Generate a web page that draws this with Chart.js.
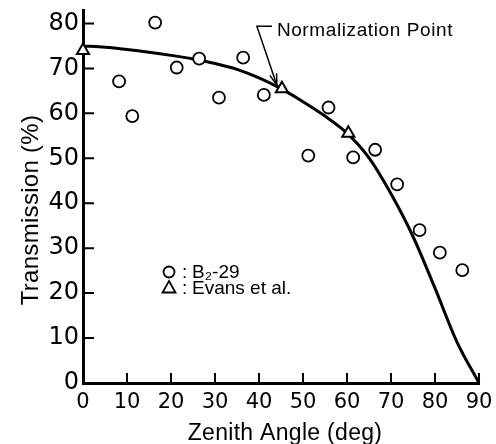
<!DOCTYPE html>
<html>
<head>
<meta charset="utf-8">
<script src="https://cdn.jsdelivr.net/npm/chart.js@4.4.1/dist/chart.umd.min.js"></script>
<style>
  html, body { margin: 0; padding: 0; background: #fff; }
</style>
</head>
<body>
<canvas id="myChart" width="496" height="444"></canvas>
<script>
// B2-29 measurements
var b2Angle = [8.2, 11.2, 16.4, 21.3, 26.4, 30.9, 36.4, 41.1, 51.2, 55.8, 61.4, 66.4, 71.4, 76.5, 81.1, 86.2];
var b2Trans = [67.1, 59.4, 80.2, 70.2, 72.2, 63.5, 72.4, 64.1, 50.6, 61.3, 50.2, 51.9, 44.2, 34.0, 29.0, 25.1];
// Evans et al.
var evansAngle = [0, 45.2, 60.3];
var evansTrans = [74.0, 65.5, 55.6];
// solid curve, read every 5 deg
var curveAngle = [0, 5, 10, 15, 20, 25, 30, 35, 40, 45, 50, 55, 60, 65, 70, 75, 80, 85, 90];
var curveTrans = [75, 74.7, 74.2, 73.6, 72.9, 72.1, 71.1, 69.8, 67.9, 65.5, 62.6, 59.4, 55.6, 50.1, 42.1, 32.6, 21.1, 9.1, 0];
// ticks
var xTicks = [0, 10, 20, 30, 40, 50, 60, 70, 80, 90];
var yTicks = [0, 10, 20, 30, 40, 50, 60, 70, 80];
var labels = ['B\u2082-29', 'Evans et al.'];
var normIndex = 1; // normalization point = Evans point at 45 deg

function pts(xs, ys) {
  return xs.map(function (x, i) { return { x: x, y: ys[i] }; });
}

var titleFont = '"Liberation Sans", Arial, sans-serif';

// draws inward ticks, axis titles, legend and the arrow note
var decorations = {
  id: 'decorations',
  afterDraw: function (chart) {
    var ctx = chart.ctx;
    var xs = chart.scales.x, ys = chart.scales.y;
    ctx.save();
    ctx.strokeStyle = '#000';
    ctx.fillStyle = '#000';

    // inward ticks
    ctx.lineWidth = 2;
    ctx.beginPath();
    xs.ticks.forEach(function (t) {
      var px = xs.getPixelForValue(t.value);
      ctx.moveTo(px, ys.bottom);
      ctx.lineTo(px, ys.bottom - 10);
    });
    ys.ticks.forEach(function (t) {
      var py = ys.getPixelForValue(t.value);
      ctx.moveTo(xs.left, py);
      ctx.lineTo(xs.left + 11, py);
    });
    ctx.stroke();

    // axis titles
    ctx.font = '23px ' + titleFont;
    ctx.textAlign = 'center';
    ctx.textBaseline = 'alphabetic';
    ctx.letterSpacing = '0.3px';
    ctx.fillText('Zenith Angle (deg)', 285, 440);
    ctx.save();
    ctx.translate(38, 210);
    ctx.rotate(-Math.PI / 2);
    ctx.font = '24px ' + titleFont;
    ctx.fillText('Transmission (%)', 0, 0);
    ctx.restore();

    // legend
    ctx.font = '19px ' + titleFont;
    ctx.textAlign = 'left';
    ctx.letterSpacing = '0px';
    ctx.lineWidth = 1.8;
    ctx.beginPath();
    ctx.arc(169, 272, 5.5, 0, Math.PI * 2);
    ctx.stroke();
    ctx.fillText(':', 182, 278);
    ctx.fillText(labels[0], 192, 278);
    ctx.beginPath();
    ctx.moveTo(169, 281);
    ctx.lineTo(175.5, 292.5);
    ctx.lineTo(162.5, 292.5);
    ctx.closePath();
    ctx.stroke();
    ctx.fillText(':', 182, 293.5);
    ctx.fillText(labels[1], 192, 293.5);

    // normalization note
    var p = chart.getDatasetMeta(0).data[normIndex];
    var tipX = p.x - 5, tipY = p.y - 3.5;
    var topX = tipX - 20, topY = tipY - 59;
    ctx.lineWidth = 1.5;
    ctx.beginPath();
    ctx.moveTo(topX + 15, topY);
    ctx.lineTo(topX, topY);
    ctx.lineTo(tipX, tipY);
    ctx.stroke();
    var ang = Math.atan2(tipY - topY, tipX - topX);
    ctx.beginPath();
    ctx.moveTo(tipX - 12 * Math.cos(ang - 0.3), tipY - 12 * Math.sin(ang - 0.3));
    ctx.lineTo(tipX, tipY);
    ctx.lineTo(tipX - 12 * Math.cos(ang + 0.3), tipY - 12 * Math.sin(ang + 0.3));
    ctx.stroke();
    ctx.font = '19px ' + titleFont;
    ctx.letterSpacing = '0.6px';
    ctx.fillText('Normalization Point', topX + 20, topY + 10);
    ctx.restore();
  }
};

var chartElement = document.getElementById('myChart');
new Chart(chartElement, {
  type: 'scatter',
  data: {
    datasets: [
      {
        label: labels[1],
        data: pts(evansAngle, evansTrans),
        pointStyle: 'triangle',
        pointRadius: 7,
        borderWidth: 2,
        borderColor: '#000',
        backgroundColor: '#fff',
        clip: false,
        order: 0
      },
      {
        label: labels[0],
        data: pts(b2Angle, b2Trans),
        pointStyle: 'circle',
        pointRadius: 6,
        borderWidth: 1.8,
        borderColor: '#000',
        backgroundColor: '#fff',
        clip: false,
        order: 1
      },
      {
        label: 'curve',
        type: 'line',
        data: pts(curveAngle, curveTrans),
        borderColor: '#000',
        borderWidth: 3,
        pointRadius: 0,
        fill: false,
        cubicInterpolationMode: 'monotone',
        clip: false,
        order: 2
      }
    ]
  },
  options: {
    responsive: false,
    animation: false,
    devicePixelRatio: 1,
    layout: { padding: { top: 10, right: 17, left: 0, bottom: 0 } },
    plugins: { legend: { display: false }, tooltip: { enabled: false } },
    scales: {
      x: {
        type: 'linear',
        min: 0,
        max: 90,
        afterBuildTicks: function (s) { s.ticks = xTicks.map(function (v) { return { value: v }; }); },
        afterFit: function (s) { s.height = 61; s.paddingLeft = 0; s.paddingRight = 0; },
        grid: { display: false, drawTicks: false },
        border: { display: true, color: '#000', width: 3 },
        ticks: {
          color: '#000',
          padding: 7,
          font: { family: '"DejaVu Sans"', size: 21 }
        }
      },
      y: {
        type: 'linear',
        min: 0,
        max: 83,
        afterBuildTicks: function (s) { s.ticks = yTicks.map(function (v) { return { value: v }; }); },
        afterFit: function (s) { s.width = 83; s.paddingTop = 0; s.paddingBottom = 0; },
        grid: { display: false, drawTicks: false },
        border: { display: true, color: '#000', width: 3 },
        ticks: {
          color: '#000',
          padding: 4,
          font: { family: '"DejaVu Sans"', size: 24 }
        }
      }
    }
  },
  plugins: [decorations]
});
</script>
</body>
</html>
